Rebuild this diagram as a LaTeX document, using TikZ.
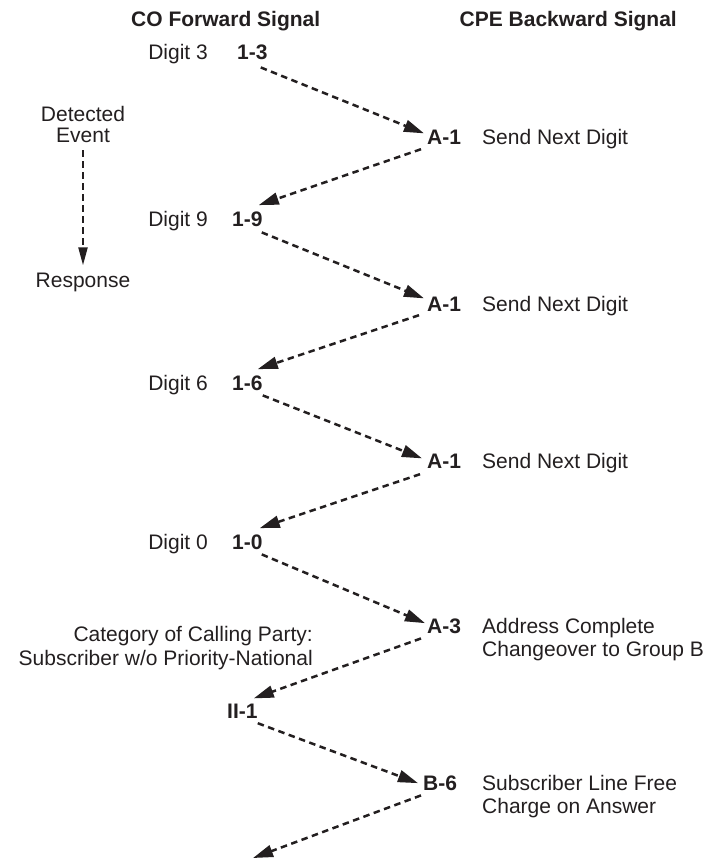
\documentclass[tikz,border=0pt]{standalone}
\usepackage{fontspec}
\setmainfont{Liberation Sans}
\usetikzlibrary{arrows.meta}
\definecolor{ink}{HTML}{231F20}
\begin{document}
\begin{tikzpicture}[x=1pt,y=-1pt,
  lbl/.style={inner sep=0pt, text=ink, font=\fontsize{21}{24}\selectfont},
  code/.style={inner sep=0pt, text=ink, font=\fontsize{21}{24}\selectfont\bfseries},
  sig/.style={draw=ink, line width=2.5pt, dash pattern=on 6.5pt off 4.5pt,
    -{Triangle[length=20pt,width=12pt]}},
]
\useasboundingbox (0,0) rectangle (708,861);

% titles
\node[code, anchor=base west] (t1) at (131,27) {CO Forward Signal};
\node[code, anchor=base east] (t2) at (677,27) {CPE Backward Signal};

% legend
\node[lbl, anchor=base] (ev1) at (83,122) {Detected};
\node[lbl, anchor=base] (ev2) at (83,143) {Event};
\node[lbl, anchor=base] (resp) at (83,287) {Response};
\draw[sig, line width=2.2pt, -{Triangle[length=18pt,width=9pt]}]
  ([yshift=-7pt]ev2.south) -- ([yshift=7pt]resp.north);

% forward side
\node[lbl, anchor=base east] (d3) at (208,60) {Digit 3};
\node[code, anchor=base west] (c13) at (237,60) {1-3};
\node[lbl, anchor=base east] (d9) at (208,226) {Digit 9};
\node[code, anchor=base west] (c19) at (232,226) {1-9};
\node[lbl, anchor=base east] (d6) at (208,390) {Digit 6};
\node[code, anchor=base west] (c16) at (232,390) {1-6};
\node[lbl, anchor=base east] (d0) at (208,549) {Digit 0};
\node[code, anchor=base west] (c10) at (232,549) {1-0};
\node[lbl, anchor=base east] (cat1) at (313,641) {Category of Calling Party:};
\node[lbl, anchor=base east] (cat2) at (313,665) {Subscriber w/o Priority-National};
\node[code, anchor=base west] (c21) at (227,718) {II-1};

% backward side
\node[code, anchor=base west] (a1a) at (427,145) {A-1};
\node[lbl, anchor=base west] (s1) at (482,145) {Send Next Digit};
\node[code, anchor=base west] (a1b) at (427,311) {A-1};
\node[lbl, anchor=base west] (s2) at (482,311) {Send Next Digit};
\node[code, anchor=base west] (a1c) at (427,468) {A-1};
\node[lbl, anchor=base west] (s3) at (482,468) {Send Next Digit};
\node[code, anchor=base west] (a3) at (427,633) {A-3};
\node[lbl, anchor=base west] (ac1) at (482,633) {Address Complete};
\node[lbl, anchor=base west] (ac2) at (482,656) {Changeover to Group B};
\node[code, anchor=base west] (b6) at (423,790) {B-6};
\node[lbl, anchor=base west] (sl1) at (482,790) {Subscriber Line Free};
\node[lbl, anchor=base west] (sl2) at (482,813) {Charge on Answer};

\coordinate (endpt) at (253,858);

% signals
\draw[sig] ([xshift=-7pt,yshift=-7pt]c13.south east) -- ([xshift=-3pt,yshift=-3pt]a1a.north west);
\draw[sig] ([xshift=-6pt,yshift=-4pt]a1a.south west) -- ([xshift=-4pt,yshift=6pt]c19.north east);
\draw[sig] ([xshift=-1pt,yshift=-6pt]c19.south east) -- ([xshift=-3pt,yshift=-2pt]a1b.north west);
\draw[sig] ([xshift=-8pt,yshift=-4pt]a1b.south west) -- ([xshift=-5pt,yshift=6pt]c16.north east);
\draw[sig] ([xshift=0pt,yshift=-5pt]c16.south east) -- ([xshift=-5pt,yshift=-5pt]a1c.north west);
\draw[sig] ([xshift=-7pt,yshift=-6pt]a1c.south west) -- ([xshift=-3pt,yshift=6pt]c10.north east);
\draw[sig] ([xshift=-1pt,yshift=-5pt]c10.south east) -- ([xshift=-2pt,yshift=-5pt]a3.north west);
\draw[sig] ([xshift=-6pt,yshift=-5pt]a3.south west) -- ([xshift=-4pt,yshift=5pt]c21.north east);
\draw[sig] ([xshift=0pt,yshift=-5pt]c21.south east) -- ([xshift=-5pt,yshift=-8pt]b6.north west);
\draw[sig] ([xshift=-2pt,yshift=-5pt]b6.south west) -- (endpt);
\end{tikzpicture}
\end{document}
